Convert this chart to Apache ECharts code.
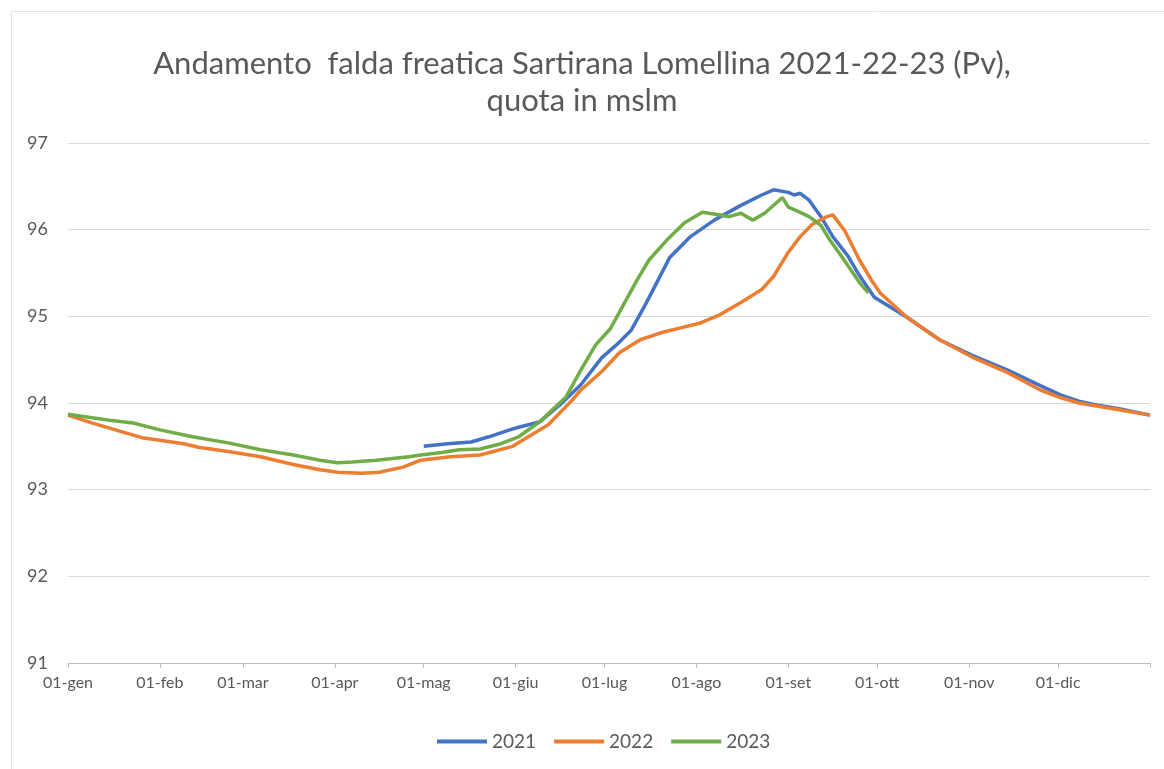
<!DOCTYPE html>
<html>
<head>
<meta charset="utf-8">
<script src="https://cdn.jsdelivr.net/npm/echarts@6/dist/echarts.min.js"></script>
<style>
  html, body { margin: 0; padding: 0; background: #fff; }
  #chart { width: 1164px; height: 769px; }
</style>
</head>
<body>
<div id="chart"></div>
<script>
// month labels and their start day (day of year, 0 = 01-gen)
const monthLabels = ['01-gen', '01-feb', '01-mar', '01-apr', '01-mag', '01-giu', '01-lug', '01-ago', '01-set', '01-ott', '01-nov', '01-dic'];
const monthStarts = [0, 31, 59, 90, 120, 151, 181, 212, 243, 273, 304, 334];
const tickDays = [0, 31, 59, 90, 120, 151, 181, 212, 243, 273, 304, 334, 365];
const yTicks = [91, 92, 93, 94, 95, 96, 97];
const titleLines = ['Andamento  falda freatica Sartirana Lomellina 2021-22-23 (Pv),', 'quota in mslm'];

// 2021 (starts in May)
const days2021 = [120, 128, 136, 142, 149, 152, 159, 166, 173, 180, 185, 190, 195, 203, 210, 218, 227, 234, 238, 243, 245, 247, 250, 254, 258, 263, 267, 272, 283, 294, 305, 317, 328, 335, 341, 348, 355, 365];
const vals2021 = [93.50, 93.53, 93.55, 93.61, 93.69, 93.72, 93.78, 93.98, 94.21, 94.52, 94.67, 94.84, 95.15, 95.68, 95.92, 96.11, 96.28, 96.40, 96.46, 96.43, 96.40, 96.42, 96.34, 96.15, 95.92, 95.70, 95.47, 95.22, 94.99, 94.73, 94.55, 94.38, 94.20, 94.09, 94.02, 93.97, 93.93, 93.86];

// 2022
const days2022 = [0, 8, 20, 25, 31, 39, 44, 54, 65, 76, 85, 91, 99, 105, 113, 119, 129, 139, 150, 162, 170, 173, 180, 186, 193, 200, 207, 213, 220, 227, 234, 238, 243, 247, 251, 256, 258, 262, 267, 271, 274, 283, 294, 305, 317, 328, 335, 341, 348, 355, 365];
const vals2022 = [93.86, 93.77, 93.65, 93.60, 93.57, 93.53, 93.49, 93.44, 93.38, 93.29, 93.23, 93.20, 93.19, 93.20, 93.26, 93.34, 93.38, 93.40, 93.50, 93.75, 94.03, 94.15, 94.36, 94.58, 94.73, 94.81, 94.87, 94.92, 95.02, 95.16, 95.31, 95.46, 95.74, 95.92, 96.06, 96.15, 96.17, 95.99, 95.65, 95.42, 95.27, 94.99, 94.73, 94.53, 94.35, 94.15, 94.06, 94.00, 93.96, 93.92, 93.86];

// 2023 (ends in late September)
const days2023 = [0, 14, 22, 31, 42, 54, 65, 76, 85, 91, 96, 104, 115, 119, 126, 132, 139, 146, 152, 159, 168, 173, 178, 183, 187, 192, 196, 202, 208, 214, 220, 223, 227, 231, 235, 239, 241, 243, 247, 250, 254, 257, 261, 264, 267, 270];
const vals2023 = [93.87, 93.80, 93.77, 93.69, 93.61, 93.54, 93.46, 93.40, 93.34, 93.31, 93.32, 93.34, 93.38, 93.40, 93.43, 93.46, 93.47, 93.53, 93.61, 93.78, 94.07, 94.38, 94.67, 94.86, 95.11, 95.42, 95.65, 95.88, 96.08, 96.20, 96.17, 96.15, 96.19, 96.11, 96.19, 96.31, 96.37, 96.26, 96.20, 96.15, 96.05, 95.88, 95.69, 95.54, 95.39, 95.27];

const pairs = (d, v) => d.map((x, i) => [x, v[i]]);

const textColor = '#595959';
const fontName = 'Lato';
const titleStyle = { color: textColor, fontFamily: fontName, fontWeight: 'normal', fontSize: 31 };

const chart = echarts.init(document.getElementById('chart'));
chart.setOption({
  animation: false,
  backgroundColor: '#ffffff',
  title: [
    { text: titleLines[0], left: 'center', top: 43, textStyle: titleStyle },
    { text: titleLines[1], left: 'center', top: 80, textStyle: titleStyle }
  ],
  legend: {
    bottom: 13,
    left: 432,
    icon: 'rect',
    itemWidth: 50,
    itemHeight: 4,
    itemGap: 18,
    textStyle: { color: textColor, fontFamily: fontName, fontSize: 19 },
    data: ['2021', '2022', '2023']
  },
  grid: { left: 68, right: 14, top: 143, bottom: 106 },
  xAxis: {
    type: 'value',
    min: 0,
    max: 365,
    axisLine: { show: true, lineStyle: { color: '#bfbfbf', width: 1 } },
    axisTick: { show: true, customValues: tickDays, length: 5, lineStyle: { color: '#bfbfbf' } },
    axisLabel: {
      customValues: monthStarts,
      formatter: v => monthLabels[monthStarts.indexOf(v)],
      color: textColor,
      fontFamily: fontName,
      fontSize: 16,
      margin: 12
    },
    splitLine: { show: false }
  },
  yAxis: {
    type: 'value',
    min: yTicks[0],
    max: yTicks[yTicks.length - 1],
    interval: 1,
    axisLine: { show: false },
    axisTick: { show: false },
    axisLabel: { color: textColor, fontFamily: fontName, fontSize: 18, margin: 20 },
    splitLine: { lineStyle: { color: '#d9d9d9', width: 1 } }
  },
  series: [
    {
      name: '2021', type: 'line', showSymbol: false,
      lineStyle: { width: 3.5, color: '#4472c4' }, itemStyle: { color: '#4472c4' },
      data: pairs(days2021, vals2021)
    },
    {
      name: '2022', type: 'line', showSymbol: false,
      lineStyle: { width: 3.5, color: '#ed7d31' }, itemStyle: { color: '#ed7d31' },
      data: pairs(days2022, vals2022)
    },
    {
      name: '2023', type: 'line', showSymbol: false,
      lineStyle: { width: 3.5, color: '#70ad47' }, itemStyle: { color: '#70ad47' },
      data: pairs(days2023, vals2023)
    }
  ],
  graphic: [{
    type: 'rect',
    silent: true,
    shape: { x: 11.5, y: 11.5, width: 1170, height: 780 },
    style: { fill: 'none', stroke: '#e3e3e3', lineWidth: 1 }
  }]
});
</script>
</body>
</html>
